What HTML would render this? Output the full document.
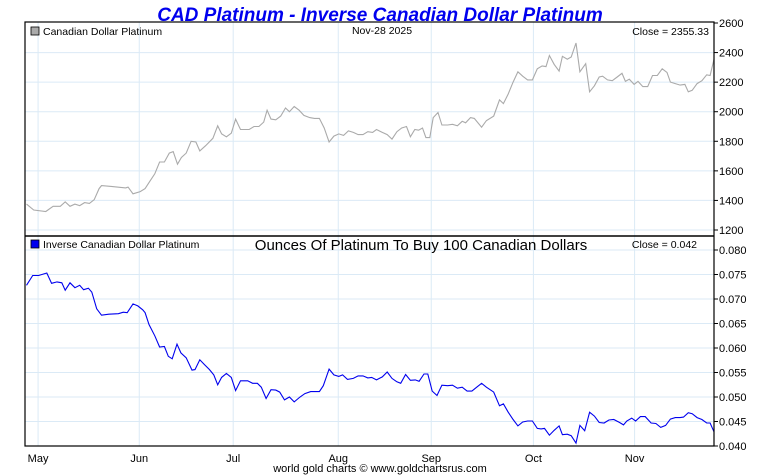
<!DOCTYPE html>
<html><head><meta charset="utf-8"><style>
body{margin:0;background:#fff;width:760px;height:475px;overflow:hidden}
svg{display:block;font-family:"Liberation Sans",sans-serif}
</style></head><body>
<svg id="chart" width="760" height="475">
<text x="380" y="21" text-anchor="middle" font-size="19" font-weight="bold" font-style="italic" fill="#0000ee">CAD Platinum - Inverse Canadian Dollar Platinum</text>
<g id="grid"></g>
<g id="series"></g>
<rect x="25" y="22" width="689" height="424" fill="none" stroke="#000" stroke-width="1.2"/>
<line x1="25" y1="236" x2="714" y2="236" stroke="#000" stroke-width="1.5"/>
<g id="axes" font-size="11"></g>
<rect x="31" y="27" width="8" height="8" fill="#aaa" stroke="#000" stroke-width="0.8"/>
<text x="43" y="35" font-size="10.5">Canadian Dollar Platinum</text>
<text x="382" y="34" text-anchor="middle" font-size="10.5">Nov-28  2025</text>
<text x="709" y="35" text-anchor="end" font-size="10.5">Close = 2355.33</text>
<rect x="31" y="240" width="8" height="8" fill="#0000ee" stroke="#000" stroke-width="0.8"/>
<text x="43" y="248" font-size="10.5">Inverse Canadian Dollar Platinum</text>
<text x="421" y="250" text-anchor="middle" font-size="15">Ounces Of Platinum To Buy 100 Canadian Dollars</text>
<text x="697" y="248" text-anchor="end" font-size="10.5">Close = 0.042</text>
<text x="380" y="472" text-anchor="middle" font-size="11">world gold charts © www.goldchartsrus.com</text>
</svg>
<script>
const months=["May","Jun","Jul","Aug","Sep","Oct","Nov"];
const monthPos=[2.7,23.6,43.0,64.7,83.9,105.0,125.9];
const totalDays=142.3;
const topTicks=[1200,1400,1600,1800,2000,2200,2400,2600];
const botTicks=[0.040,0.045,0.050,0.055,0.060,0.065,0.070,0.075,0.080];
const cadDays=[0.3,1.8,4.3,5.8,7.3,8.3,9.3,10.3,11.3,12.3,13.3,14.3,15.3,15.8,17.8,20.8,21.3,22.3,23.8,24.8,25.8,26.8,27.8,28.8,29.8,30.6,31.5,32.3,33.3,34.3,35.3,36.1,37.3,38.8,39.8,40.6,41.6,42.6,43.5,44.5,46.3,47.3,48.3,49.3,50.0,50.8,51.8,52.8,53.8,54.6,55.6,56.6,57.6,58.8,59.8,60.8,61.8,62.8,63.8,64.8,65.8,66.8,67.8,68.8,69.8,70.8,71.8,72.6,73.8,74.8,75.8,76.8,77.8,78.8,79.6,80.5,81.3,82.1,82.8,83.6,84.3,85.3,86.1,87.3,88.3,89.3,90.3,91.0,92.0,92.8,94.3,95.3,96.8,98.0,98.8,99.8,100.8,101.8,102.8,103.8,104.8,105.8,106.8,107.6,108.3,109.3,110.3,111.0,112.0,112.8,113.8,114.6,115.8,116.6,117.6,118.6,119.3,120.3,121.3,122.3,123.3,124.0,124.8,125.8,126.6,127.6,128.6,129.6,130.6,131.6,132.6,133.3,134.3,135.3,136.3,137.0,137.8,138.8,139.8,140.8,141.5,142.3];
const cadPlat=[1375,1335,1325,1360,1360,1390,1360,1375,1365,1385,1380,1405,1480,1500,1495,1485,1490,1445,1460,1480,1530,1580,1660,1660,1720,1730,1645,1690,1720,1800,1795,1735,1770,1820,1905,1850,1830,1855,1950,1880,1880,1900,1900,1930,2010,1950,1945,1970,2025,2000,2035,2010,1975,1960,1955,1955,1890,1795,1835,1850,1840,1870,1860,1845,1845,1865,1860,1880,1860,1845,1815,1865,1890,1900,1830,1880,1875,1890,1825,1825,1960,1995,1910,1910,1915,1905,1935,1925,1960,1955,1895,1940,1970,2080,2055,2120,2200,2270,2240,2215,2215,2290,2310,2305,2380,2320,2275,2375,2355,2370,2465,2270,2325,2135,2175,2235,2240,2215,2210,2235,2260,2205,2220,2185,2205,2170,2170,2245,2245,2290,2265,2200,2190,2180,2185,2135,2145,2190,2210,2250,2245,2355.33];
const invDays=[0.3,1.6,2.8,4.5,5.5,6.6,7.6,8.3,9.3,10.3,11.3,12.1,13.1,13.8,14.8,15.8,17.3,19.3,20.3,21.1,22.3,23.3,24.3,24.8,25.6,26.8,27.8,28.8,29.6,30.4,31.4,32.2,33.3,34.5,35.1,36.1,37.1,38.1,39.0,39.8,40.6,41.6,42.6,43.5,44.5,46.0,47.0,48.0,48.8,49.8,50.8,51.8,52.6,53.6,54.6,55.6,56.8,57.8,59.0,60.8,61.6,62.8,63.8,64.8,65.6,66.6,67.8,68.8,69.8,70.8,71.6,72.6,73.8,74.8,75.8,76.8,77.6,78.6,79.6,80.6,81.4,82.4,83.2,84.1,85.1,86.1,87.3,88.3,89.3,90.3,91.3,92.3,93.3,94.3,95.3,96.8,98.0,98.8,99.8,100.8,101.8,102.8,103.8,104.8,105.8,106.6,107.3,108.3,109.3,110.3,111.0,112.0,112.8,113.8,114.6,115.6,116.6,117.6,118.6,119.6,120.6,121.6,122.8,123.6,124.3,125.3,126.1,127.1,128.1,129.3,130.3,131.3,132.3,133.3,134.3,135.3,136.0,137.0,137.8,138.8,139.8,140.8,141.5,142.3];
const invPlat=[0.0728,0.0748,0.0748,0.0753,0.0732,0.0735,0.0733,0.0718,0.0733,0.0723,0.0728,0.0719,0.0722,0.0714,0.0680,0.0667,0.0669,0.0670,0.0673,0.0672,0.0690,0.0686,0.0678,0.0672,0.0648,0.0625,0.0602,0.0603,0.0583,0.0578,0.0608,0.0590,0.0580,0.0555,0.0556,0.0576,0.0566,0.0556,0.0545,0.0525,0.0540,0.0548,0.0540,0.0513,0.0533,0.0533,0.0528,0.0528,0.0520,0.0497,0.0515,0.0514,0.0510,0.0494,0.0500,0.0490,0.0500,0.0507,0.0511,0.0511,0.0523,0.0557,0.0545,0.0542,0.0545,0.0536,0.0538,0.0543,0.0543,0.0539,0.0540,0.0535,0.0541,0.0551,0.0538,0.0531,0.0528,0.0546,0.0534,0.0535,0.0532,0.0547,0.0547,0.0512,0.0503,0.0524,0.0523,0.0524,0.0518,0.0520,0.0512,0.0512,0.0520,0.0528,0.0520,0.0510,0.0482,0.0486,0.0469,0.0454,0.0441,0.0449,0.0451,0.0451,0.0436,0.0435,0.0436,0.0422,0.0432,0.0441,0.0423,0.0424,0.0421,0.0406,0.0442,0.0431,0.0469,0.0461,0.0448,0.0447,0.0453,0.0454,0.0448,0.0443,0.0451,0.0457,0.0451,0.0460,0.0460,0.0447,0.0446,0.0438,0.0442,0.0455,0.0458,0.0458,0.0459,0.0468,0.0466,0.0458,0.0454,0.0447,0.0447,0.0429];

const NS="http://www.w3.org/2000/svg";
const X0=25,X1=714;
const yTop=v=>23+(2600-v)*(207/1400);
const yBot=v=>250+(0.080-v)*(196/0.040);
const xDay=d=>X0+(d/totalDays)*(X1-X0);
function mk(tag,attrs,parent){const e=document.createElementNS(NS,tag);for(const k in attrs)e.setAttribute(k,attrs[k]);parent.appendChild(e);return e;}
const grid=document.getElementById('grid'),axes=document.getElementById('axes'),series=document.getElementById('series');
monthPos.forEach((d,i)=>{
  const x=xDay(d);
  const gl=mk('line',{x1:x,y1:22,x2:x,y2:446,stroke:'#dbeaf6','stroke-width':1},grid);
  
  
  const t=mk('text',{x:x,y:462,'text-anchor':'middle','font-size':11},axes);
  t.textContent=months[i];
  
  
});
topTicks.forEach(v=>{
  const y=yTop(v);
  if(v<2600){const gl=mk('line',{x1:X0,y1:y,x2:X1,y2:y,stroke:'#dbeaf6','stroke-width':1},grid);
  
  }
  mk('line',{x1:X1,y1:y,x2:X1+4,y2:y,stroke:'#000'},axes);
  const t=mk('text',{x:719,y:y+4,'font-size':11},axes);
  t.textContent=v;
  
  
});
botTicks.forEach(v=>{
  const y=yBot(v);
  const gl=mk('line',{x1:X0,y1:y,x2:X1,y2:y,stroke:'#dbeaf6','stroke-width':1},grid);
  
  
  mk('line',{x1:X1,y1:y,x2:X1+4,y2:y,stroke:'#000'},axes);
  const t=mk('text',{x:719,y:y+4,'font-size':11},axes);
  t.textContent=v.toFixed(3);
  
  
});
function line(days,data,yf,color){
  const n=Math.min(days.length,data.length);
  const pts=[];
  for(let i=0;i<n;i++)pts.push(xDay(days[i]).toFixed(1)+','+yf(data[i]).toFixed(1));
  return mk('polyline',{points:pts.join(' '),fill:'none',stroke:color,'stroke-width':1.1},series);
}
const l1=line(cadDays,cadPlat,yTop,'#aaaaaa');


const l2=line(invDays,invPlat,yBot,'#0000ee');


</script>
</body></html>
